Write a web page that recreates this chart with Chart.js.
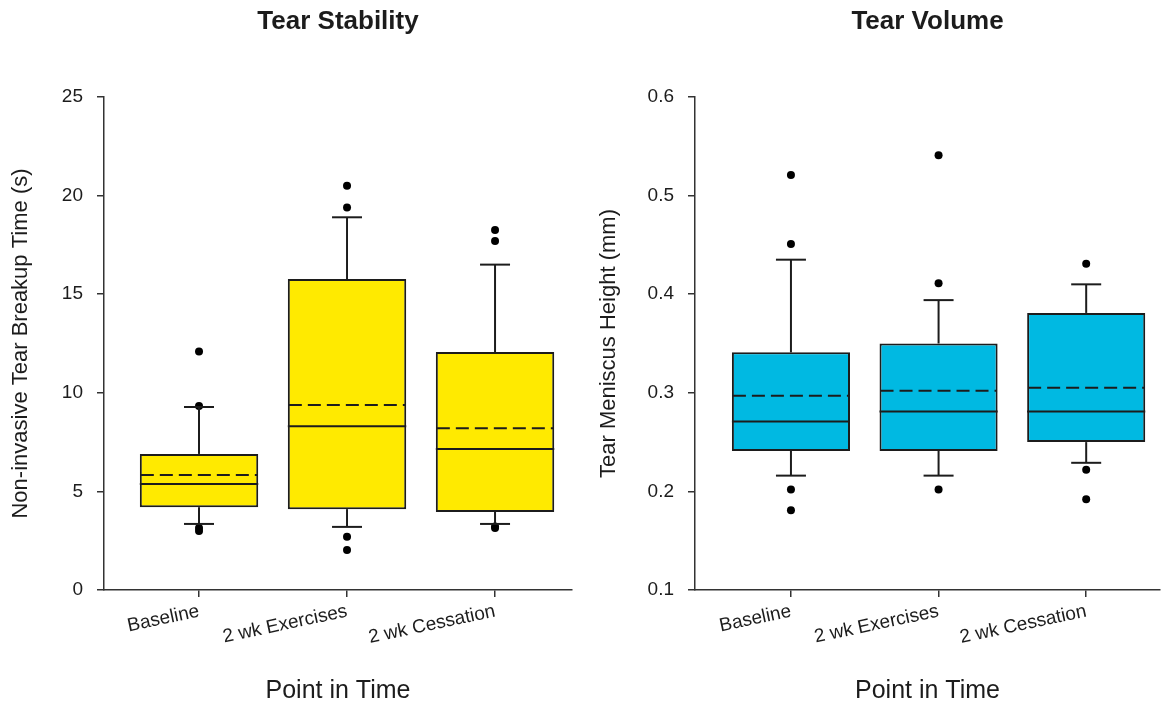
<!DOCTYPE html>
<html>
<head>
<meta charset="utf-8">
<title>Tear Stability / Tear Volume</title>
<script src="https://cdn.jsdelivr.net/npm/chart.js@4.4.1/dist/chart.umd.min.js"></script>
<style>
	body { margin: 0; background: #fff; }
	#wrap { position: relative; width: 1176px; height: 708px; }
	canvas { position: absolute; top: 0; }
	#chart-stability { left: 0; }
	#chart-volume { left: 588px; }
</style>
</head>
<body>
<div id="wrap">
	<canvas id="chart-stability" width="588" height="708"></canvas>
	<canvas id="chart-volume" width="588" height="708"></canvas>
</div>
<script>
var categories = ['Baseline', '2 wk Exercises', '2 wk Cessation'];

// Tear Stability - non-invasive tear breakup time (s)
var nibutQ1 = [4.2, 4.1, 3.96];
var nibutQ3 = [6.9, 15.77, 12.07];
var nibutMedian = [5.37, 8.3, 7.15];
var nibutMean = [5.83, 9.38, 8.2];
var nibutLow = [3.35, 3.2, 3.35];
var nibutHigh = [9.28, 18.9, 16.5];
var nibutOutliers = [[12.1, 9.33, 3.14, 2.99], [20.5, 19.4, 2.7, 2.03], [18.25, 17.7, 3.22, 3.15]];

// Tear Volume - tear meniscus height (mm)
var tmhQ1 = [0.241, 0.241, 0.25];
var tmhQ3 = [0.341, 0.35, 0.381];
var tmhMedian = [0.271, 0.281, 0.281];
var tmhMean = [0.297, 0.302, 0.305];
var tmhLow = [0.216, 0.216, 0.229];
var tmhHigh = [0.435, 0.394, 0.41];
var tmhOutliers = [[0.521, 0.451, 0.202, 0.181], [0.541, 0.411, 0.202], [0.431, 0.222, 0.192]];

var fontFamily = '"Liberation Sans", Arial, sans-serif';
var ink = '#1c1c1c';

// whiskers, median and mean lines on top of the floating bars
var boxLines = {
	id: 'boxLines',
	afterDatasetsDraw: function(chart) {
		var box = chart.options.plugins.boxLines;
		var meta = chart.getDatasetMeta(0);
		var y = chart.scales.y;
		var ctx = chart.ctx;
		ctx.save();
		ctx.strokeStyle = ink;
		ctx.lineWidth = 2;
		meta.data.forEach(function(bar, i) {
			var half = bar.width / 2;
			var cap = 15;
			var seg = function(x1, y1, x2, y2) {
				ctx.beginPath();
				ctx.moveTo(x1, y1);
				ctx.lineTo(x2, y2);
				ctx.stroke();
			};
			ctx.setLineDash([]);
			// upper whisker
			seg(bar.x, y.getPixelForValue(box.q3[i]), bar.x, y.getPixelForValue(box.high[i]));
			seg(bar.x - cap, y.getPixelForValue(box.high[i]), bar.x + cap, y.getPixelForValue(box.high[i]));
			// lower whisker
			seg(bar.x, y.getPixelForValue(box.q1[i]), bar.x, y.getPixelForValue(box.low[i]));
			seg(bar.x - cap, y.getPixelForValue(box.low[i]), bar.x + cap, y.getPixelForValue(box.low[i]));
			// median
			seg(bar.x - half, y.getPixelForValue(box.median[i]), bar.x + half, y.getPixelForValue(box.median[i]));
			// mean
			ctx.setLineDash([13, 6]);
			seg(bar.x - half + 1, y.getPixelForValue(box.mean[i]), bar.x + half - 1, y.getPixelForValue(box.mean[i]));
		});
		ctx.restore();
	}
};

function makeBoxChart(canvasId, opt) {
	var boxData = categories.map(function(c, i) {
		return { x: i + 1, y: [opt.q1[i], opt.q3[i]] };
	});
	var outlierData = [];
	opt.outliers.forEach(function(list, i) {
		list.forEach(function(v) {
			outlierData.push({ x: i + 1, y: v });
		});
	});

	var config = {
		type: 'bar',
		data: {
			datasets: [{
				data: boxData,
				backgroundColor: opt.fill,
				borderColor: ink,
				borderWidth: 2,
				borderSkipped: false,
				barPercentage: 0.8,
				categoryPercentage: 1
			}, {
				type: 'scatter',
				data: outlierData,
				pointRadius: 4,
				pointBackgroundColor: '#000',
				pointBorderWidth: 0
			}]
		},
		options: {
			responsive: false,
			animation: false,
			layout: {
				padding: { left: 0, right: 16, top: 0, bottom: 0 }
			},
			scales: {
				x: {
					type: 'linear',
					offset: false,
					min: opt.xMin,
					max: opt.xMax,
					afterBuildTicks: function(scale) {
						scale.ticks = [{ value: 1 }, { value: 2 }, { value: 3 }];
					},
					afterFit: function(scale) {
						scale.height = 118;
					},
					ticks: {
						autoSkip: false,
						minRotation: 12,
						maxRotation: 12,
						padding: 3,
						color: ink,
						font: { family: fontFamily, size: 19 },
						callback: function(v) { return categories[v - 1]; }
					},
					grid: {
						offset: false,
						drawOnChartArea: false,
						tickLength: 7,
						color: '#333',
						lineWidth: 1.5
					},
					border: { display: true, color: '#333', width: 1.5 },
					title: {
						display: true,
						text: 'Point in Time',
						color: ink,
						font: { family: fontFamily, size: 25 },
						padding: { top: 4, bottom: 2 }
					}
				},
				y: {
					min: opt.yMin,
					max: opt.yMax,
					afterFit: function(scale) {
						scale.width = opt.yWidth;
					},
					ticks: {
						stepSize: opt.yStep,
						padding: 14,
						color: ink,
						font: { family: fontFamily, size: 19 },
						callback: opt.yFormat
					},
					grid: {
						drawOnChartArea: false,
						tickLength: 7,
						color: '#333',
						lineWidth: 1.5
					},
					border: { display: true, color: '#333', width: 1.5 },
					title: {
						display: true,
						text: opt.yTitle,
						color: ink,
						font: { family: fontFamily, size: 22 },
						padding: { top: 8, bottom: 0 }
					}
				}
			},
			plugins: {
				legend: { display: false },
				tooltip: { enabled: false },
				title: {
					display: true,
					text: opt.title,
					fullSize: false,
					color: ink,
					font: { family: fontFamily, size: 26, weight: 'bold' },
					padding: { top: 6, bottom: 59.8 }
				},
				boxLines: {
					q1: opt.q1, q3: opt.q3, median: opt.median, mean: opt.mean,
					low: opt.low, high: opt.high
				}
			}
		},
		plugins: [boxLines]
	};

	var ctx = document.getElementById(canvasId).getContext('2d');
	return new Chart(ctx, config);
}

window.chartStability = makeBoxChart('chart-stability', {
	title: 'Tear Stability',
	yTitle: 'Non-invasive Tear Breakup Time (s)',
	fill: '#ffea00',
	q1: nibutQ1, q3: nibutQ3, median: nibutMedian, mean: nibutMean,
	low: nibutLow, high: nibutHigh, outliers: nibutOutliers,
	yMin: 0, yMax: 25, yStep: 5, yWidth: 104,
	yFormat: function(v) { return v; },
	xMin: 0.358, xMax: 3.52
});

window.chartVolume = makeBoxChart('chart-volume', {
	title: 'Tear Volume',
	yTitle: 'Tear Meniscus Height (mm)',
	fill: '#00b9e2',
	q1: tmhQ1, q3: tmhQ3, median: tmhMedian, mean: tmhMean,
	low: tmhLow, high: tmhHigh, outliers: tmhOutliers,
	yMin: 0.1, yMax: 0.6, yStep: 0.1, yWidth: 107,
	yFormat: function(v) { return v.toFixed(1); },
	xMin: 0.35, xMax: 3.5
});
</script>
</body>
</html>
